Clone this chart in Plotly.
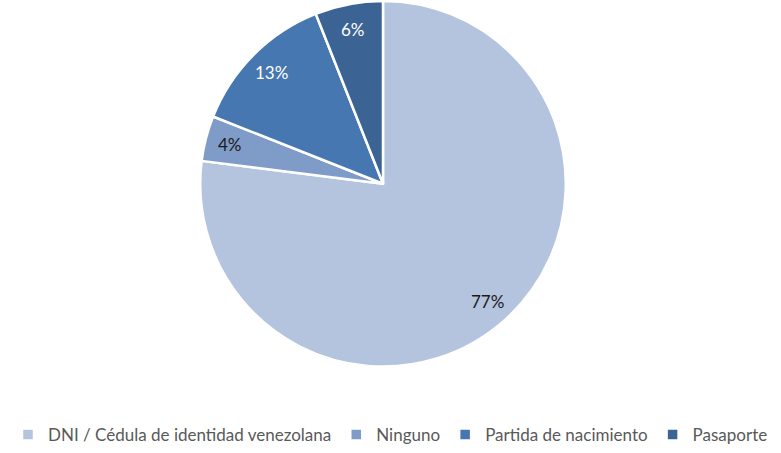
import math
import plotly.graph_objects as go

labels = ["DNI / Cédula de identidad venezolana", "Ninguno", "Partida de nacimiento", "Pasaporte"]
values = [77, 4, 13, 6]
colors = ["#B4C3DE", "#7F9CC9", "#4677B0", "#3B6494"]
text_colors = ["#1a1a1a", "#1a1a1a", "white", "white"]

W, H = 781, 453
cx, cy, r = 383, 185, 184  # pie centre / radius in pixels

fig = go.Figure(go.Pie(
    labels=labels, values=values, sort=False, direction="clockwise", rotation=0,
    marker=dict(colors=colors, line=dict(color="white", width=2.5)),
    textinfo="none",
    hoverinfo="label+percent",
    domain=dict(x=[(cx - r) / W, (cx + r) / W], y=[1 - (cy + r) / H, 1 - (cy - r) / H]),
))

# percent labels near the outer edge of each slice, like Excel's "inside end"
total = sum(values)
cum = 0
for v, c in zip(values, text_colors):
    mid = (cum + v / 2) / total * 2 * math.pi
    cum += v
    px = cx + 0.86 * r * math.sin(mid)
    py = cy - 0.86 * r * math.cos(mid)
    fig.add_annotation(
        x=px / W, y=1 - py / H, xref="paper", yref="paper",
        xanchor="center", yanchor="middle",
        text=f"{round(v / total * 100)}%", showarrow=False,
        font=dict(size=17, color=c, family="Lato, sans-serif"),
    )

fig.update_layout(
    width=W, height=H,
    margin=dict(l=0, r=0, t=0, b=0),
    paper_bgcolor="white", plot_bgcolor="white",
    font=dict(family="Lato, sans-serif", color="#595959"),
    legend=dict(orientation="h", x=0.5, xanchor="center", y=(H - 438) / H, yanchor="middle",
                font=dict(size=17, color="#595959"), itemwidth=30, traceorder="normal"),
)

# page body has a default 8px margin which would shift the chart
fig.write_html("out.html", config={"displayModeBar": False},
               post_script="document.body.style.margin='0px';")
